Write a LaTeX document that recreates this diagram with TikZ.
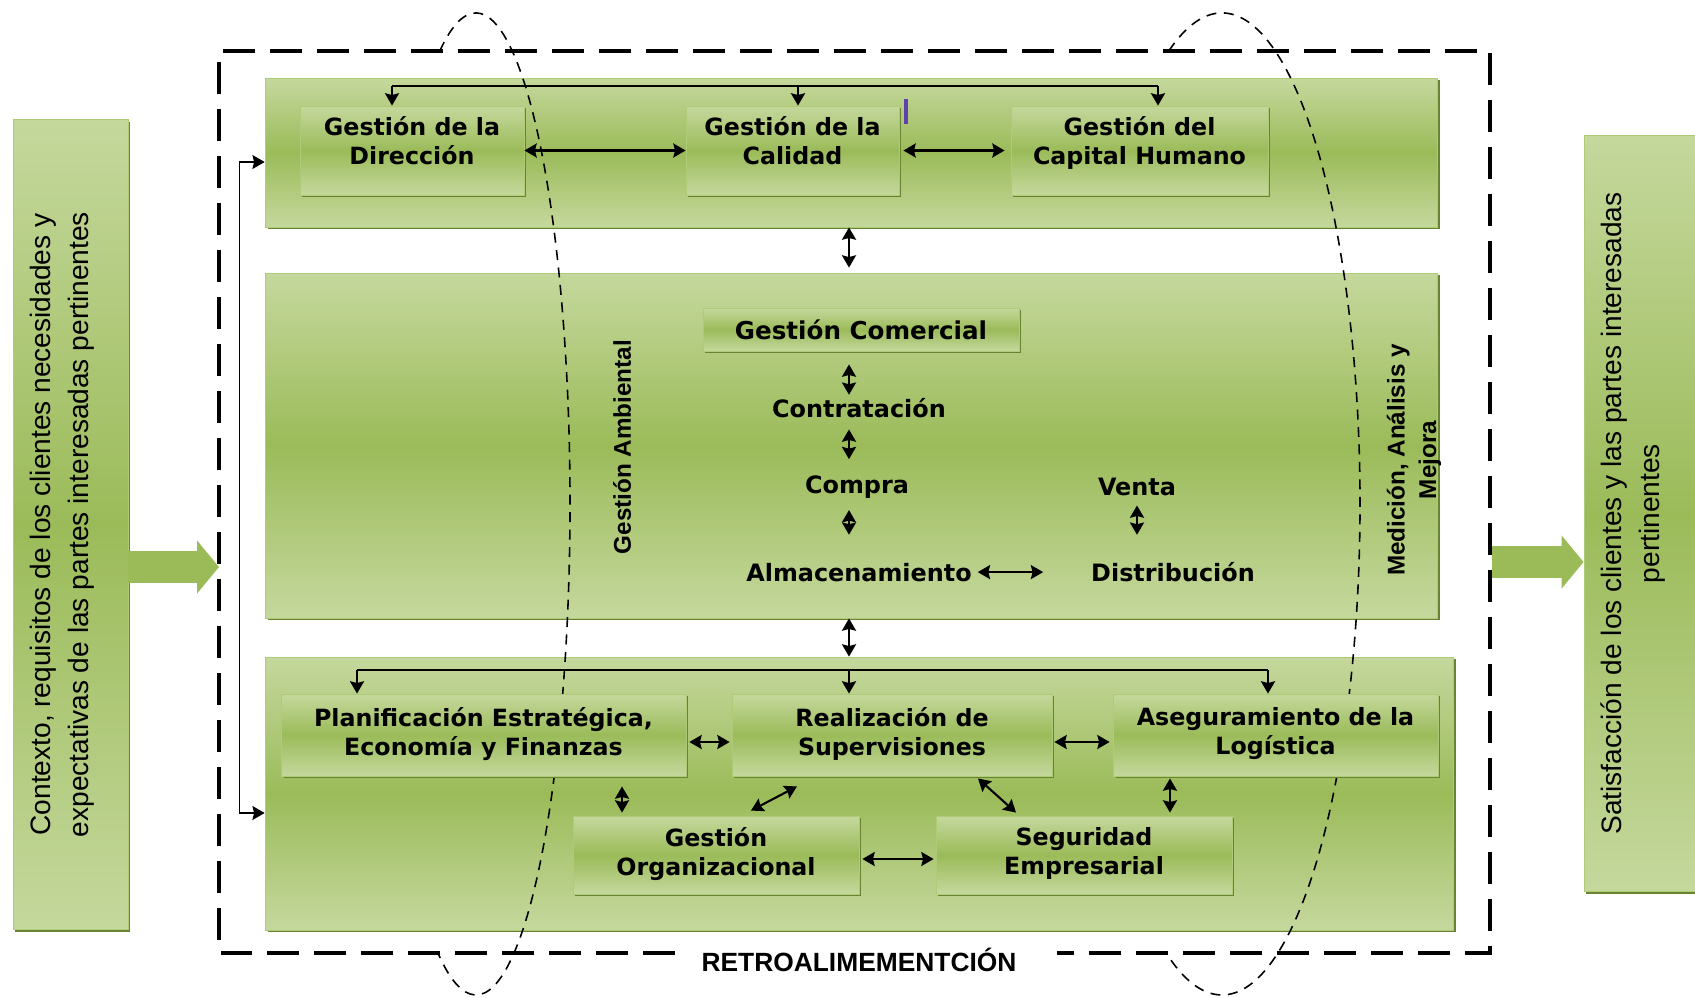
\documentclass[tikz,border=0pt]{standalone}
\usepackage{fontspec}
\setmainfont{Liberation Sans}
\newfontfamily\boxfont{DejaVu Sans}
\usetikzlibrary{arrows.meta,shadows}
\definecolor{pnl}{RGB}{197, 216, 157}
\definecolor{pnd}{RGB}{155, 187, 89}
\definecolor{shd}{RGB}{105, 132, 48}
\definecolor{edg}{RGB}{176, 203, 120}
\definecolor{cur}{RGB}{96, 64, 170}
\tikzset{
  panel/.style={draw=edg, line width=0.5pt, top color=pnl, bottom color=pnl, middle color=pnd,
    drop shadow={shadow xshift=1.4pt, shadow yshift=-1.4pt, fill=shd, opacity=1}, inner sep=0pt},
  box/.style={panel, font=\boxfont\bfseries\fontsize{13.5}{16.5}\selectfont},
  lbl/.style={font=\boxfont\bfseries\fontsize{13.6}{16.5}\selectfont, inner sep=1pt, anchor=base},
  side/.style={font=\fontsize{13.8}{18}\selectfont\bfseries, rotate=90, align=center, inner sep=1pt},
  arr/.style={-{Stealth[length=7pt, width=8pt, inset=1pt]}, line width=1.2pt},
  dbl/.style={{Stealth[length=7pt, width=8pt, inset=1pt]}-{Stealth[length=7pt, width=8pt, inset=1pt]}, line width=1.2pt},
  outerdash/.style={line width=2.4pt, dash pattern=on 0.64cm off 0.3cm},
  ringdash/.style={line width=0.9pt, dash pattern=on 0.2cm off 0.15cm},
  fat/.style={pnd, line width=0.64cm, -{Triangle[length=0.44cm, width=1.04cm]}},
}

\begin{document}
\begin{tikzpicture}[x=0.02cm, y=-0.02cm]
  \path[use as bounding box] (0,0) rectangle (1695,998);
  \clip (0,0) rectangle (1695,998);
  \fill[white] (0,0) rectangle (1695,998);

  \node[panel, minimum width=23.46cm, minimum height=2.98cm] (tp) at (851.5,152.5) {};
  \node[panel, minimum width=23.46cm, minimum height=6.9cm] (mp) at (851.5,445.5) {};
  \node[panel, minimum width=23.78cm, minimum height=5.46cm] (bp) at (859.5,793.5) {};
  \node[panel, minimum width=2.3cm, minimum height=16.22cm] (ctx) at (70.5,524.5)
    {\rotatebox{90}{\raisebox{0.16cm}[\height][\depth]{\parbox{15cm}{\centering\fontsize{16}{21.6}\selectfont Contexto, requisitos de los clientes necesidades y\\expectativas de las partes interesadas pertinentes}}}};
  \node[panel, minimum width=2.32cm, minimum height=15.14cm] (sat) at (1642,513.5)
    {\rotatebox{90}{\raisebox{0.17cm}[\height][\depth]{\parbox{15cm}{\centering\fontsize{16}{21.6}\selectfont Satisfacción de los clientes y las partes interesadas\\pertinentes}}}};

  \draw[ringdash] (476,504) ++(-112.7:94 and 491) arc[start angle=-112.7, end angle=113.9, x radius=94, y radius=491];
  \draw[ringdash] (1222,504) ++(-112.7:138 and 491) arc[start angle=-112.7, end angle=113.9, x radius=138, y radius=491];

  \node[font=\fontsize{15}{17}\selectfont\bfseries] (ret) at (859,960) {RETROALIMEMENTCIÓN};
  \coordinate (fbl) at (219,953);
  \coordinate (ftr) at (1490,51);
  \draw[outerdash] ([xshift=-0.4cm]ret.west |- fbl) -- (fbl) |- (ftr) |- ([xshift=0.68cm]ret.east |- fbl);

  \coordinate (inL) at (219,567);
  \coordinate (outR) at (1492,562);
  \draw[fat] (ctx.east |- inL) -- (inL);
  \draw[fat] (outR) -- (outR -| sat.west);

  \node[box, minimum width=4.48cm, minimum height=1.78cm] (dir) at (412,150.5) {\parbox[c][1.36cm][t]{4.3cm}{\centering Gestión de la\\Dirección}};
  \node[box, minimum width=4.26cm, minimum height=1.78cm] (cal) at (792.5,150.5) {\parbox[c][1.36cm][t]{4.1cm}{\centering Gestión de la\\Calidad}};
  \node[box, minimum width=5.14cm, minimum height=1.78cm] (cap) at (1139.5,150.5) {\parbox[c][1.36cm][t]{5cm}{\centering Gestión del\\Capital Humano}};
  \draw[cur, line width=2pt] (906,99) -- (906,124);

  \node[box, font=\boxfont\bfseries\fontsize{14}{16}\selectfont, minimum width=6.32cm, minimum height=0.86cm] (com) at (861,329.5) {Gestión Comercial};
  \node[lbl] (con) at (859,417) {Contratación};
  \node[lbl] (cmp) at (857,493) {Compra};
  \node[lbl] (alm) at (859,581) {Almacenamiento};
  \node[lbl] (ven) at (1137,495) {Venta};
  \node[lbl] (dis) at (1173,581) {Distribución};
  \node[side] (amb) at (622,447) {Gestión Ambiental};
  \node[side] (med) at (1414,460) {Medición, Análisis y\\Mejora};

  \node[box, minimum width=8.1cm, minimum height=1.64cm] (pla) at (483.5,735) {\parbox[c][1.1cm][t]{7.9cm}{\centering Planificación Estratégica,\\Economía y Finanzas}};
  \node[box, minimum width=6.4cm, minimum height=1.64cm] (rea) at (892,735) {\parbox[c][1.1cm][t]{6.2cm}{\centering Realización de\\Supervisiones}};
  \node[box, minimum width=6.5cm, minimum height=1.64cm] (ase) at (1275.5,735) {\parbox[c][1.1cm][t]{6.3cm}{\centering Aseguramiento de la\\Logística}};
  \node[box, minimum width=5.72cm, minimum height=1.56cm] (org) at (716,855) {\parbox[c][1.1cm][t]{5.5cm}{\centering Gestión\\Organizacional}};
  \node[box, minimum width=5.92cm, minimum height=1.56cm] (seg) at (1084,855) {\parbox[c][1.1cm][t]{5.7cm}{\centering Seguridad\\Empresarial}};

  \coordinate (tbar) at (0,86);
  \draw[line width=1.2pt] ([xshift=-0.4cm]dir.north |- tbar) -- ([xshift=0.37cm]cap.north |- tbar);
  \draw[arr] ([xshift=-0.4cm]dir.north |- tbar) -- ([xshift=-0.4cm]dir.north);
  \draw[arr] ([xshift=0.11cm]cal.north |- tbar) -- ([xshift=0.11cm]cal.north);
  \draw[arr] ([xshift=0.37cm]cap.north |- tbar) -- ([xshift=0.37cm]cap.north);
  \draw[dbl] (dir.east) -- (cal.west);
  \draw[dbl, shorten <=0.08cm, shorten >=0.12cm] (cal.east) -- (cap.west);

  \draw[dbl, line width=0.8pt] ([yshift=-0.19cm]tp.west) -- ++(-25,0) |- ([yshift=-0.39cm]bp.west);

  \coordinate (mid) at (849,0);
  \draw[dbl, shorten >=0.1cm] (mid |- tp.south) -- (mid |- mp.north);
  \draw[dbl] (mid |- mp.south) -- (mid |- bp.north);
  \draw[dbl, shorten <=0.26cm, shorten >=0.02cm] (mid |- com.south) -- (mid |- con.north);
  \draw[dbl, shorten <=0.2cm, shorten >=0.28cm] (mid |- con.south) -- (mid |- cmp.north);
  \draw[dbl, shorten <=0.2cm, shorten >=0.52cm] (mid |- cmp.south) -- (mid |- alm.north);
  \draw[dbl, shorten <=0.16cm, shorten >=0.5cm] (ven.south) -- (ven.south |- dis.north);
  \draw[dbl, shorten <=0.08cm, shorten >=0.92cm] (alm.east) -- (alm.east -| dis.west);

  \coordinate (bbar) at (0,670);
  \draw[line width=1.2pt] ([xshift=-2.53cm]pla.north |- bbar) -- ([xshift=-0.15cm]ase.north |- bbar);
  \draw[arr] ([xshift=-2.53cm]pla.north |- bbar) -- ([xshift=-2.53cm]pla.north);
  \draw[arr] ([xshift=-0.86cm]rea.north |- bbar) -- ([xshift=-0.86cm]rea.north);
  \draw[arr] ([xshift=-0.15cm]ase.north |- bbar) -- ([xshift=-0.15cm]ase.north);
  \draw[dbl, shorten <=0.06cm, shorten >=0.04cm] ([yshift=-0.14cm]pla.east) -- ([yshift=-0.14cm]rea.west);
  \draw[dbl, shorten <=0.04cm, shorten >=0.06cm] ([yshift=-0.14cm]rea.east) -- ([yshift=-0.14cm]ase.west);
  \draw[dbl, shorten <=0.2cm, shorten >=0.06cm] ([xshift=-1.88cm]org.north |- pla.south) -- ([xshift=-1.88cm]org.north);
  \draw[dbl] ([xshift=0.7cm, yshift=0.1cm]org.north) -- ([xshift=-1.9cm, yshift=-0.2cm]rea.south);
  \draw[dbl] ([xshift=1.72cm, yshift=-0.04cm]rea.south) -- ([xshift=-1.36cm, yshift=0.06cm]seg.north);
  \draw[dbl, shorten <=0.04cm, shorten >=0.06cm] ([xshift=1.72cm]seg.north |- ase.south) -- ([xshift=1.72cm]seg.north);
  \draw[dbl, shorten <=0.06cm, shorten >=0.04cm] ([yshift=-0.08cm]org.east) -- ([yshift=-0.08cm]seg.west);
\end{tikzpicture}
\end{document}
